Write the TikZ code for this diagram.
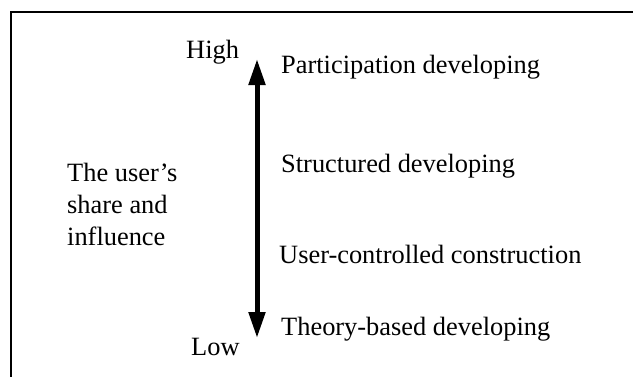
\documentclass[tikz,border=0pt]{standalone}
\usepackage{fontspec}
\setmainfont{Liberation Serif}
\usetikzlibrary{arrows.meta}
\begin{document}
\begin{tikzpicture}[x=1pt,y=-1pt,
  label text/.style={anchor=base west,inner sep=0pt,font=\fontsize{26.4}{32}\selectfont},
  frame line/.style={line width=2pt,line cap=rect},
  scale arrow/.style={line width=5pt,{Triangle[length=26pt,width=16pt]}-{Triangle[length=26pt,width=16pt]}}]
  \useasboundingbox (0,0) rectangle (633,376);
  % open frame: top and left edges only
  \coordinate (frameTR) at (633,12);
  \coordinate (frameTL) at (11,12);
  \coordinate (frameBL) at (11,376);
  \draw[frame line] (frameTR) -- (frameTL) -- (frameBL);
  % vertical scale
  \coordinate (arrowTop) at (257,59);
  \coordinate (arrowBot) at (257,338);
  \draw[scale arrow] (arrowBot) -- (arrowTop);
  \node[label text] (high) at (186,58) {High};
  \node[label text] (low) at (191,355) {Low};
  % base anchor of a multi-line node sits on its last line
  \node[label text,align=left] (share) at (67,245) {The user’s\\share and\\influence};
  % levels of user participation
  \node[label text] (part) at (281,73) {Participation developing};
  \node[label text] (struct) at (281,172) {Structured developing};
  \node[label text] (userc) at (279,263) {User-controlled construction};
  \node[label text] (theory) at (281,335) {Theory-based developing};
\end{tikzpicture}
\end{document}
